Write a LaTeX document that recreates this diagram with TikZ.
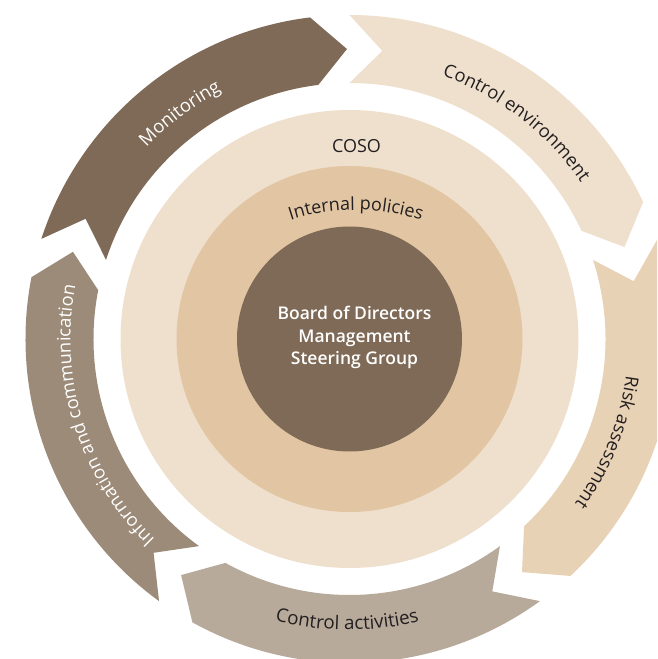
\documentclass[tikz,border=0pt]{standalone}
\usepackage{fontspec}
\setmainfont{Open Sans}
\IfFontExistsTF{Open Sans Semibold}{\newfontfamily\sbfont{Open Sans Semibold}}{\newfontfamily\sbfont{Open Sans}[FakeBold=1.2]}
\usetikzlibrary{decorations.text}
\definecolor{darkbrown}{HTML}{7E6A56}
\definecolor{infocol}{HTML}{9C8B78}
\definecolor{cacol}{HTML}{B8AA9B}
\definecolor{racol}{HTML}{E8D2B6}
\definecolor{cecol}{HTML}{EFE0CD}
\definecolor{cosocol}{HTML}{EFE0CD}
\definecolor{polcol}{HTML}{E2C6A3}
\definecolor{txtdark}{HTML}{231F20}
\newcommand\ringseg[3]{%
  \fill[#1] (#2:324) arc[start angle=#2, end angle=#3, radius=324]
    -- ({#3-6.5}:290) -- (#3:256) arc[start angle=#3, end angle=#2, radius=256]
    -- ({#2-6.5}:290) -- cycle;}
\newcommand\ringtextcw[3]{%
  \path[decorate, decoration={text along path, text align=center,
    text={|\color{#1}\fontsize{18.3}{18}\selectfont|#3}}]
    ({#2+45}:279) arc[start angle={#2+45}, end angle={#2-45}, radius=279];}
\tikzset{
  centertext/.style={text=white, font=\sbfont\fontsize{17.5}{21}\selectfont, inner sep=0pt, anchor=base},
  cosotext/.style={text=txtdark, font=\fontsize{18}{18}\selectfont, inner sep=0pt, anchor=base}
}
\begin{document}
\begin{tikzpicture}[x=1pt,y=1pt]
\useasboundingbox (0,0) rectangle (657,659);
\clip (0,0) rectangle (657,659);
\fill[white] (0,0) rectangle (657,659);
\begin{scope}[shift={(349.5,320)}]
  % outer ring segments (tail angle, head angle)
  \ringseg{cecol}{90}{25}
  \ringseg{racol}{18}{-47}
  \ringseg{cacol}{-54}{-119}
  \ringseg{infocol}{234}{169}
  \ringseg{darkbrown}{162}{97}
  % inner discs
  \fill[cosocol] (0,0) circle[radius=229];
  \fill[polcol] (0,0) circle[radius=173];
  \fill[darkbrown] (0,0) circle[radius=112.5];
  % ring labels
  \ringtextcw{white}{127}{Monitoring}
  \ringtextcw{txtdark}{52.3}{Control environment}
  \ringtextcw{txtdark}{-21.8}{Risk assessment}
  \ringtextcw{white}{197.4}{Information and communication}
  \path[decorate, decoration={text along path, text align=center,
    text={|\color{txtdark}\fontsize{18.8}{18}\selectfont|Control activities}}]
    (224.5:291) arc[start angle=224.5, end angle=314.5, radius=291];
  % COSO and internal policies
  \node[cosotext] (coso) at (7,186.5) {COSO};
  \path[shift={(6.5,-81)}, decorate, decoration={text along path, text align=center,
    text={|\color{txtdark}\fontsize{18}{18}\selectfont|Internal policies}}]
    (115:210) arc[start angle=115, end angle=65, radius=210];
  % centre text
  \node[centertext] (b1) at (5,19.7) {Board of Directors};
  \node[centertext] (b2) at (5,-3.7) {Management};
  \node[centertext] (b3) at (5,-26) {Steering Group};
\end{scope}
\end{tikzpicture}
\end{document}
